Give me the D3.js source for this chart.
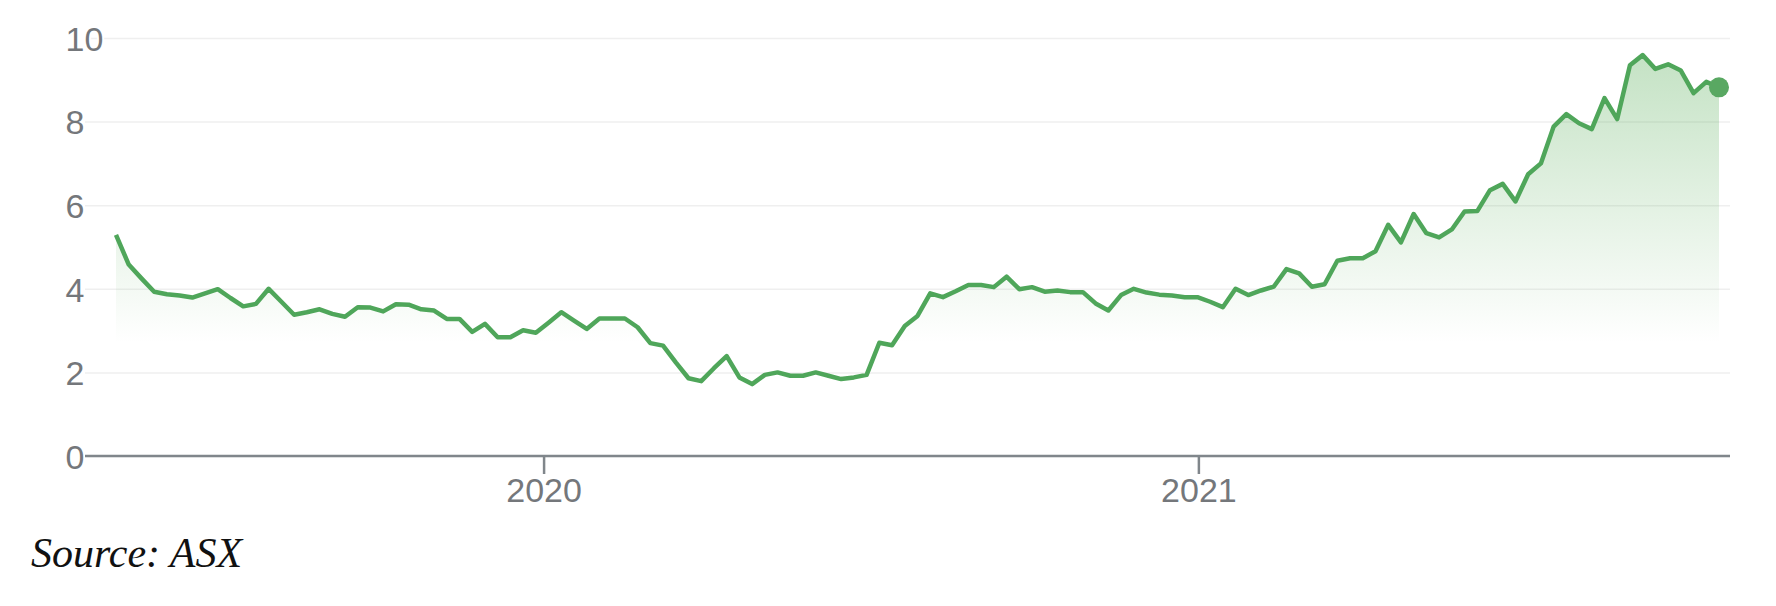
<!DOCTYPE html>
<meta charset="utf-8">
<style>

body {
    margin: 0;
    background: #fff;
}

.axisX text,
.axisY text {
    font-family: Arial, 'Liberation Sans', sans-serif;
    font-size: 34px;
    fill: #74777b;
}

.axisY line {
    stroke: #efefef;
    stroke-width: 1.5;
}

.axisX line,
.baseline {
    stroke: #80868b;
    stroke-width: 2.5;
}

.source {
    font-family: 'Liberation Serif', 'Times New Roman', serif;
    font-style: italic;
    font-size: 42px;
    fill: #111;
}

</style>

<div id='graph'></div>

<script src='https://cdn.jsdelivr.net/npm/d3@7'></script>
<script>

// weekly-ish closing prices (5 trading days apart)
const startDate = '2019-05-07',
      endDate = '2021-10-19';

const prices = [
    5.29, 4.58, 4.25, 3.93, 3.87, 3.84, 3.79, 3.89, 3.99, 3.78,
    3.58, 3.64, 4.00, 3.69, 3.38, 3.44, 3.51, 3.40, 3.33, 3.56,
    3.55, 3.46, 3.63, 3.62, 3.51, 3.48, 3.28, 3.28, 2.97, 3.16,
    2.84, 2.84, 3.01, 2.95, 3.19, 3.44, 3.24, 3.04, 3.29, 3.29,
    3.29, 3.08, 2.70, 2.64, 2.24, 1.86, 1.79, 2.10, 2.39, 1.88,
    1.72, 1.94, 2.00, 1.92, 1.92, 2.00, 1.92, 1.84, 1.88, 1.94,
    2.71, 2.65, 3.11, 3.35, 3.89, 3.80, 3.94, 4.09, 4.09, 4.04,
    4.29, 3.99, 4.04, 3.93, 3.96, 3.92, 3.92, 3.65, 3.48, 3.85,
    4.00, 3.91, 3.86, 3.84, 3.80, 3.80, 3.69, 3.56, 4.00, 3.85,
    3.96, 4.05, 4.47, 4.37, 4.05, 4.11, 4.67, 4.73, 4.73, 4.90,
    5.53, 5.11, 5.79, 5.33, 5.23, 5.42, 5.85, 5.86, 6.36, 6.51,
    6.09, 6.74, 7.00, 7.88, 8.18, 7.96, 7.82, 8.56, 8.06, 9.35,
    9.59, 9.26, 9.37, 9.22, 8.68, 8.95, 8.82
];

const yTicks = [0, 2, 4, 6, 8, 10];
const xTickYears = [2020, 2021];
const sourceText = 'Source: ASX';

priceChart('#graph');

function priceChart(selector) {
    const width = 1776,
          height = 606;

    const plot = {left: 85, right: 1730, top: 38, bottom: 456},
          inset = {left: 31, right: 11};

    const svg = d3.select(selector)
            .append('svg')
                .attr('width', width)
                .attr('height', height);

    const t0 = new Date(startDate + 'T00:00:00'),
          t1 = new Date(endDate + 'T00:00:00'),
          step = (t1 - t0) / (prices.length - 1);

    const data = prices.map(function(p, i) {
        return { date: new Date(+t0 + i * step), price: p };
    });

    const x = d3.scaleTime()
                .domain([t0, t1])
                .range([plot.left + inset.left, plot.right - inset.right]);

    const y = d3.scaleLinear()
                .domain([0, 10])
                .range([plot.bottom, plot.top]);

    const green = '#4fa65a';

    // fading fill under the line
    const grad = svg.append('defs')
        .append('linearGradient')
            .attr('id', 'fade')
            .attr('gradientUnits', 'userSpaceOnUse')
            .attr('x1', 0).attr('x2', 0)
            .attr('y1', y(9.6)).attr('y2', y(2.7));
    grad.append('stop').attr('offset', 0).attr('stop-color', '#48a548').attr('stop-opacity', 0.32);
    grad.append('stop').attr('offset', 1).attr('stop-color', '#48a548').attr('stop-opacity', 0);

    const yAxis = d3.axisLeft(y)
                    .tickValues(yTicks)
                    .tickSize(-(plot.right - plot.left))
                    .tickFormat(d3.format('d'));

    svg.append('g')
        .attr('class', 'axisY')
        .attr('transform', 'translate(' + plot.left + ',0)')
        .call(customAxisY);

    function customAxisY(g) {
        g.call(yAxis);
        g.select('.domain').remove();
        g.selectAll('.tick text')
            .attr('x', -19.5)
            .attr('dy', '0.36em')
            .attr('text-anchor', 'start')
            .attr('stroke', '#fff')
            .attr('stroke-width', 4)
            .attr('paint-order', 'stroke');
        g.selectAll('.tick text').raise();
    }

    const area = d3.area()
                   .x(function(d) { return x(d.date); })
                   .y0(y(0))
                   .y1(function(d) { return y(d.price); });

    const line = d3.line()
                   .x(function(d) { return x(d.date); })
                   .y(function(d) { return y(d.price); });

    svg.append('path')
        .datum(data)
        .attr('fill', 'url(#fade)')
        .attr('d', area);

    const xAxis = d3.axisBottom(x)
                    .tickValues(xTickYears.map(function(yr) { return new Date(yr, 0, 1); }))
                    .tickSize(18)
                    .tickPadding(4)
                    .tickFormat(d3.timeFormat('%Y'));

    svg.append('g')
        .attr('class', 'axisX')
        .attr('transform', 'translate(0,' + y(0) + ')')
        .call(customAxisX);

    function customAxisX(g) {
        g.call(xAxis);
        g.select('.domain').remove();
        g.append('line')
            .attr('class', 'baseline')
            .attr('x1', plot.left)
            .attr('x2', plot.right);
    }

    svg.append('path')
        .datum(data)
        .attr('fill', 'none')
        .attr('stroke', green)
        .attr('stroke-width', 4.5)
        .attr('stroke-linejoin', 'round')
        .attr('d', line);

    const last = data[data.length - 1];
    svg.append('circle')
        .attr('cx', x(last.date))
        .attr('cy', y(last.price))
        .attr('r', 10)
        .attr('fill', '#59a862');

    svg.append('text')
        .attr('class', 'source')
        .attr('x', 31)
        .attr('y', 567)
        .text(sourceText);
}

</script>
